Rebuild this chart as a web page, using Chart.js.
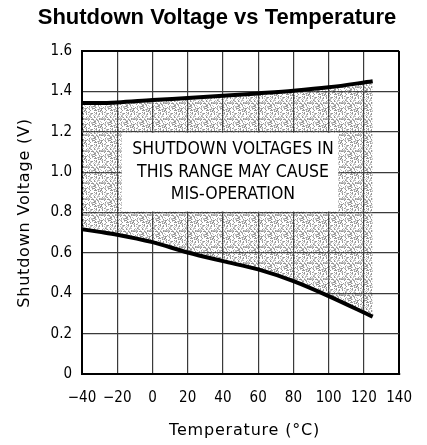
<!DOCTYPE html>
<html>
<head>
<meta charset="utf-8">
<script src="https://cdn.jsdelivr.net/npm/chart.js@4.4.1/dist/chart.umd.min.js"></script>
<style>
  html, body { margin: 0; padding: 0; background: #fff; }
  #wrap { width: 427px; height: 445px; }
</style>
</head>
<body>
<div id="wrap"><canvas id="c" width="427" height="445"></canvas></div>
<script>
// ---- data ----
const temperatures = [-40, -30, -20, 0, 20, 40, 60, 80, 100, 125];
const upperVoltage = [1.343, 1.342, 1.345, 1.357, 1.367, 1.378, 1.39, 1.403, 1.42, 1.45];
const lowerVoltage = [0.717, 0.704, 0.69, 0.653, 0.602, 0.559, 0.518, 0.46, 0.386, 0.284];
const xTickValues = [-40, -20, 0, 20, 40, 60, 80, 100, 120, 140];
const xTickLabels = ['\u221240', '\u221220', '0', '20', '40', '60', '80', '100', '120', '140'];
const yTickValues = [0, 0.2, 0.4, 0.6, 0.8, 1.0, 1.2, 1.4, 1.6];
const yTickLabels = ['0', '0.2', '0.4', '0.6', '0.8', '1.0', '1.2', '1.4', '1.6'];
const noteLines = ['SHUTDOWN VOLTAGES IN', 'THIS RANGE MAY CAUSE', 'MIS-OPERATION'];
const chartTitle = 'Shutdown Voltage vs Temperature';
const xTitle = 'Temperature (\u00B0C)';
const yTitle = 'Shutdown Voltage (V)';

const FONT = '"DejaVu Sans Condensed", "DejaVu Sans", sans-serif';
const canvas = document.getElementById('c');

function makePattern() {
  const n = 16;
  const p = document.createElement('canvas');
  p.width = n; p.height = n;
  const g = p.getContext('2d');
  for (let r = 0; r < n; r++) {
    for (let c = 0; c < n; c++) {
      const h = ((c * 73 + r * 151 + c * r * 37) ^ (r * 29 + c * 11)) % 17;
      if (h < 8) {
        g.fillStyle = h < 4 ? 'rgba(80,80,80,0.6)' : 'rgba(130,130,130,0.5)';
        g.fillRect(c, r, 1, 1);
      }
    }
  }
  return canvas.getContext('2d').createPattern(p, 'repeat');
}

// vertical (bottom-to-top) text built by transposing pixels, no canvas rotation
function verticalText(ctx, text, font, cx, cy) {
  const off = document.createElement('canvas');
  const m = off.getContext('2d');
  m.font = font;
  if ('letterSpacing' in m) m.letterSpacing = '0.8px';
  const w = Math.ceil(m.measureText(text).width) + 6;
  const h = 24;
  off.width = w; off.height = h;
  m.font = font;
  if ('letterSpacing' in m) m.letterSpacing = '0.8px';
  m.fillStyle = '#000';
  m.textAlign = 'center';
  m.textBaseline = 'middle';
  m.fillText(text, w / 2, h / 2);
  const src = m.getImageData(0, 0, w, h);
  const rot = document.createElement('canvas');
  rot.width = h; rot.height = w;
  const rm = rot.getContext('2d');
  const dst = rm.createImageData(h, w);
  for (let y = 0; y < h; y++) {
    for (let x = 0; x < w; x++) {
      const si = (y * w + x) * 4;
      // rotate -90deg: (x, y) -> (y, w-1-x)
      const nx = y, ny = w - 1 - x;
      const di = (ny * h + nx) * 4;
      dst.data[di] = src.data[si];
      dst.data[di + 1] = src.data[si + 1];
      dst.data[di + 2] = src.data[si + 2];
      dst.data[di + 3] = src.data[si + 3];
    }
  }
  rm.putImageData(dst, 0, 0);
  ctx.drawImage(rot, Math.round(cx - h / 2), Math.round(cy - w / 2));
}

const textPlugin = {
  id: 'texts',
  afterDatasetsDraw(chart) {
    const { ctx, scales: { x, y } } = chart;
    ctx.save();
    const left = x.getPixelForValue(-17.5);
    const right = x.getPixelForValue(105.5);
    const top = y.getPixelForValue(1.2) + 1;
    const bottom = y.getPixelForValue(0.8) - 1;
    ctx.fillStyle = '#ffffff';
    ctx.fillRect(left, top, right - left, bottom - top);
    ctx.fillStyle = '#000';
    ctx.font = '17.5px ' + FONT;
    ctx.textAlign = 'center';
    ctx.textBaseline = 'middle';
    const cy = (top + bottom) / 2;
    noteLines.forEach((t, i) => ctx.fillText(t, 233, cy + (i - 1) * 22.6));
    ctx.restore();
  },
  afterDraw(chart) {
    const { ctx, chartArea } = chart;
    ctx.save();
    ctx.fillStyle = '#000';
    ctx.textAlign = 'center';
    ctx.textBaseline = 'middle';
    ctx.font = 'bold 22px "Liberation Sans", Arial, sans-serif';
    ctx.fillText(chartTitle, 217, 18);
    ctx.font = '16px "DejaVu Sans", sans-serif';
    if ('letterSpacing' in ctx) ctx.letterSpacing = '0.8px';
    ctx.fillText(xTitle, (chartArea.left + chartArea.right) / 2 + 4, 431);
    ctx.restore();
    verticalText(ctx, yTitle, '16px "DejaVu Sans", sans-serif', 25, (chartArea.top + chartArea.bottom) / 2);
  }
};

const pattern = makePattern();

new Chart(canvas, {
  type: 'line',
  data: {
    datasets: [
      {
        data: temperatures.map((t, i) => ({ x: t, y: lowerVoltage[i] })),
        borderColor: '#000',
        borderWidth: 4,
        pointRadius: 0,
        cubicInterpolationMode: 'monotone',
        fill: false
      },
      {
        data: temperatures.map((t, i) => ({ x: t, y: upperVoltage[i] })),
        borderColor: '#000',
        borderWidth: 4,
        pointRadius: 0,
        cubicInterpolationMode: 'monotone',
        fill: '-1',
        backgroundColor: pattern
      }
    ]
  },
  options: {
    responsive: false,
    animation: false,
    devicePixelRatio: 1,
    layout: { padding: { left: 0, right: 21, top: 51, bottom: 0 } },
    plugins: {
      legend: { display: false },
      tooltip: { enabled: false },
      title: { display: false }
    },
    scales: {
      x: {
        type: 'linear',
        min: -40, max: 140,
        afterBuildTicks(s) { s.ticks = xTickValues.map(v => ({ value: v })); },
        afterFit(s) { s.height = 71; },
        ticks: {
          color: '#000',
          font: { family: FONT, size: 15 },
          padding: 15,
          maxRotation: 0,
          autoSkip: false,
          callback: (v) => xTickLabels[xTickValues.indexOf(v)]
        },
        grid: {
          drawTicks: false,
          color: (c) => (c.tick && c.tick.value === 140) ? '#000' : '#3a3a3a',
          lineWidth: (c) => (c.tick && c.tick.value === 140) ? 2 : 1.2
        },
        border: { color: '#000', width: 2 }
      },
      y: {
        min: 0, max: 1.6,
        afterBuildTicks(s) { s.ticks = yTickValues.map(v => ({ value: v })); },
        afterFit(s) { s.width = 82; },
        ticks: {
          color: '#000',
          font: { family: FONT, size: 15 },
          padding: 10,
          autoSkip: false,
          callback: (v) => yTickLabels[yTickValues.findIndex(t => Math.abs(t - v) < 1e-9)]
        },
        grid: {
          drawTicks: false,
          color: (c) => (c.tick && c.tick.value === 1.6) ? '#000' : '#3a3a3a',
          lineWidth: (c) => (c.tick && c.tick.value === 1.6) ? 2 : 1.2
        },
        border: { color: '#000', width: 2 }
      }
    }
  },
  plugins: [textPlugin]
});
</script>
</body>
</html>
